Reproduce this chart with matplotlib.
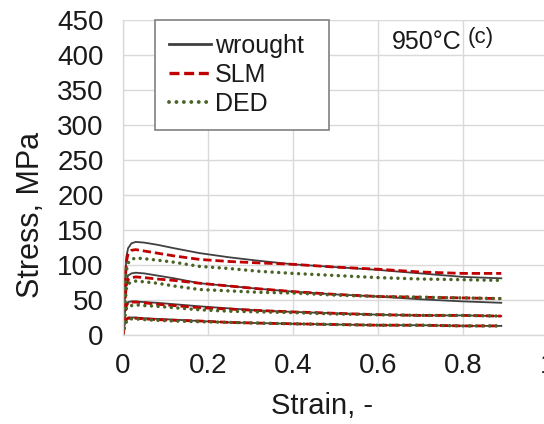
import matplotlib
matplotlib.use("Agg")
import matplotlib.pyplot as plt

plt.rcParams['font.family'] = ['Liberation Sans', 'DejaVu Sans']

# Strain points shared by all curves
strain = [0, 0.004, 0.008, 0.012, 0.02, 0.03, 0.05, 0.08, 0.12, 0.18,
          0.25, 0.32, 0.4, 0.5, 0.6, 0.7, 0.8, 0.89]

# Flow curves at 950°C, four strain rates per material (MPa)
wrought_1 = [0, 70, 112, 124, 131, 133, 132, 129, 124, 117, 111, 106, 101, 97, 93, 88, 83, 81]
wrought_2 = [0, 50, 78, 85, 88, 89, 88, 85, 81, 74, 70, 66, 62, 58, 55, 51, 48, 46]
wrought_3 = [0, 30, 44, 47, 48, 48, 47, 46, 44, 41, 38, 35, 33, 31, 29, 28, 28, 27]
wrought_4 = [0, 15, 23, 25, 25, 25, 24, 23, 22, 20, 18, 17, 16, 15, 14, 14, 13, 13]

slm_1 = [0, 65, 105, 116, 121, 122, 120, 117, 113, 108, 105, 103, 101, 97, 94, 90, 88, 88]
slm_2 = [0, 45, 72, 79, 82, 83, 82, 80, 78, 74, 70, 66, 62, 58, 55, 54, 53, 52]
slm_3 = [0, 28, 42, 46, 47, 47, 46, 44, 42, 39, 37, 35, 33, 31, 29, 28, 28, 27]
slm_4 = [0, 14, 22, 24, 24, 24, 23, 22, 21, 20, 18, 17, 16, 15, 14, 14, 13, 13]

ded_1 = [0, 55, 92, 103, 108, 110, 109, 107, 104, 98, 95, 91, 88, 85, 82, 80, 79, 78]
ded_2 = [0, 40, 66, 73, 76, 77, 76, 74, 70, 65, 63, 61, 60, 57, 55, 54, 53, 52]
ded_3 = [0, 25, 38, 41, 42, 43, 42, 41, 39, 36, 34, 33, 32, 30, 29, 28, 28, 27]
ded_4 = [0, 12, 19, 22, 23, 23, 22, 21, 20, 19, 18, 17, 16, 15, 14, 14, 13, 13]

x_ticks = [0, 0.2, 0.4, 0.6, 0.8, 1]
x_tick_labels = ['0', '0.2', '0.4', '0.6', '0.8', '1']
y_ticks = [0, 50, 100, 150, 200, 250, 300, 350, 400, 450]

text_color = '#1a1a1a'
grid_color = '#d9d9d9'

fig = plt.figure(figsize=(5.44, 4.24), dpi=100)
ax = fig.add_axes([0.2261, 0.2099, 0.7813, 0.7429])

wrought_style = dict(color='#404040', lw=1.3, linestyle='-')
slm_style = dict(color='#c00000', lw=2.0, linestyle=(0, (3.0, 1.4)))
ded_style = dict(color='#4a6427', lw=2.5, linestyle=(0, (0.01, 1.9)),
                 dash_capstyle='round')

# wrought first, then SLM, then DED on top
for i, s in enumerate([wrought_1, wrought_2, wrought_3, wrought_4]):
    ax.plot(strain, s, label='wrought' if i == 0 else None, **wrought_style)
for i, s in enumerate([slm_1, slm_2, slm_3, slm_4]):
    ax.plot(strain, s, label='SLM' if i == 0 else None, **slm_style)
for i, s in enumerate([ded_1, ded_2, ded_3, ded_4]):
    ax.plot(strain, s, label='DED' if i == 0 else None, **ded_style)

ax.set_xlim(0, 1)
ax.set_ylim(0, 450)
ax.set_xticks(x_ticks)
ax.set_xticklabels(x_tick_labels)
ax.set_yticks(y_ticks)
ax.tick_params(length=0, labelsize=20, colors=text_color)
ax.tick_params(axis='x', pad=13)
ax.tick_params(axis='y', pad=14)

ax.grid(True, color=grid_color, lw=1)
ax.set_axisbelow(True)
for side in ['top', 'right']:
    ax.spines[side].set_visible(False)
for side in ['left', 'bottom']:
    ax.spines[side].set_color(grid_color)
    ax.spines[side].set_linewidth(1)

ax.set_xlabel('Strain, -', fontsize=21, color=text_color)
ax.set_ylabel('Stress, MPa', fontsize=22, color=text_color)
ax.xaxis.set_label_coords(0.468, -0.18)
ax.yaxis.set_label_coords(-0.18, 0.38)

ax.text(0.797, 0.93, '950°C', fontsize=18, color=text_color,
        transform=ax.transAxes, ha='right', va='center')
ax.text(0.81, 0.945, '(c)', fontsize=16, color=text_color,
        transform=ax.transAxes, ha='left', va='center')

leg = ax.legend(loc='upper left', bbox_to_anchor=(0.075, 0.62, 0.41, 0.38),
                mode='expand', borderaxespad=0, fontsize=18, frameon=True,
                fancybox=False, edgecolor='#808080', framealpha=1,
                handlelength=1.7, handletextpad=0.15, labelspacing=0.2,
                borderpad=0.55)
leg.get_frame().set_linewidth(1.2)
for t in leg.get_texts():
    t.set_color(text_color)
# thicker sample lines in the legend box
leg.get_lines()[0].set_linewidth(2.0)
leg.get_lines()[1].set_linewidth(2.4)
leg.get_lines()[2].set_linewidth(2.8)

plt.savefig('out.png', dpi=100)
